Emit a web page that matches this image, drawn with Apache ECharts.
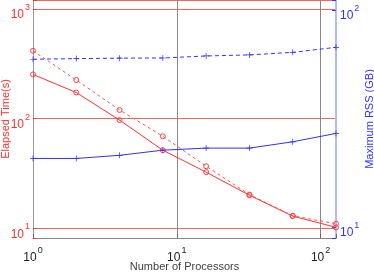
<!DOCTYPE html>
<html><head><meta charset="utf-8">
<script src="https://cdn.jsdelivr.net/npm/echarts@6/dist/echarts.min.js"></script>
<style>html,body{margin:0;padding:0;background:#fff}#c{width:374px;height:272px}</style>
</head><body><div id="c"></div>
<script>
const processors = [1, 2, 4, 8, 16, 32, 64, 128];
const timeSolid = [253, 173, 97, 51.5, 32.5, 20, 12.9, 10.2];
const timeDashed = [416, 225, 120, 69, 36.8, 20.3, 13, 11];
const rssSolid = [20.7, 20.7, 21.4, 22.6, 23.1, 23.1, 24.7, 27];
const rssDashed = [59.3, 59.7, 60, 60.1, 61.4, 62.1, 63.8, 67.3];

const FONT = 'Liberation Sans, Arial, Helvetica, sans-serif';
const RED = '#ff3030', BLUE = '#3030ff';
function pow10Label(v) {
  const l = Math.log10(v), e = Math.round(l);
  if (Math.abs(l - e) > 0.01) return '';
  return '{b|10}{s|' + e + '}';
}
function rich(color) {
  return {
    b: {fontSize: 12, color: color, fontFamily: FONT, lineHeight: 12, padding: [6, 0, 0, 0]},
    s: {fontSize: 9, color: color, fontFamily: FONT, lineHeight: 9, padding: [0, 0, 9, 1]}
  };
}
const plus = 'path://M4.4,0h1.2v4.4h4.4v1.2h-4.4v4.4h-1.2v-4.4h-4.4v-1.2h4.4z';
const circ = {color: 'rgba(255,255,255,0)', borderColor: '#ff4040', borderWidth: 1};
const chart = echarts.init(document.getElementById('c'), null, {renderer: 'canvas'});
chart.setOption({
  animation: false,
  grid: {left: 33, right: 38, top: 0, bottom: 34, containLabel: false, outerBoundsMode: 'none'},
  xAxis: {
    type: 'log', min: 1, max: 128,
    name: 'Number of Processors', nameLocation: 'middle', nameGap: 23, nameMoveOverlap: false,
    nameTextStyle: {fontSize: 11, color: '#404040', fontFamily: FONT},
    axisLine: {show: true, lineStyle: {color: '#888', width: 1}},
    axisTick: {show: true, inside: true, length: 4, lineStyle: {color: '#666'}},
    axisLabel: {formatter: pow10Label, rich: rich('#222'), margin: 11},
    splitLine: {show: true, lineStyle: {color: '#888', width: 1}},
    minorTick: {show: false}
  },
  yAxis: [{
    type: 'log', min: 8.15, max: 1208, position: 'left',
    name: 'Elapsed Time(s)', nameLocation: 'middle', nameGap: 22, nameRotate: 90, nameMoveOverlap: false,
    nameTextStyle: {fontSize: 11, color: RED, fontFamily: FONT},
    axisLine: {show: true, lineStyle: {color: '#999', width: 1}},
    axisTick: {show: true, inside: true, length: 4, lineStyle: {color: RED}},
    axisLabel: {formatter: pow10Label, rich: rich(RED), margin: 3, padding: [6, 0, 0, 0]},
    splitLine: {show: true, lineStyle: {color: '#ff6060', width: 1}}
  }, {
    type: 'log', min: 8.9, max: 111.2, position: 'right',
    name: 'Maximum RSS (GB)', nameLocation: 'middle', nameGap: 28, nameRotate: 90, nameMoveOverlap: false,
    nameTextStyle: {fontSize: 11, color: BLUE, fontFamily: FONT},
    axisLine: {show: true, lineStyle: {color: '#b4baff', width: 2}},
    axisTick: {show: true, inside: true, length: 4, lineStyle: {color: BLUE}},
    axisLabel: {formatter: pow10Label, rich: rich(BLUE), margin: 4, padding: [6, 0, 0, 0]},
    splitLine: {show: false}
  }],
  series: [{
    type: 'line', yAxisIndex: 0, clip: false,
    data: processors.map((p, i) => [p, timeSolid[i]]),
    symbol: 'circle', symbolSize: 5,
    lineStyle: {color: RED, width: 1}, itemStyle: circ
  }, {
    type: 'line', yAxisIndex: 0, clip: false,
    data: processors.map((p, i) => [p, timeDashed[i]]),
    symbol: 'circle', symbolSize: 5,
    lineStyle: {color: '#ff5050', width: 1, type: [3, 3]}, itemStyle: circ
  }, {
    type: 'line', yAxisIndex: 1, clip: false,
    data: processors.map((p, i) => [p, rssSolid[i]]),
    symbol: plus, symbolSize: 6,
    lineStyle: {color: BLUE, width: 1}, itemStyle: {color: BLUE}
  }, {
    type: 'line', yAxisIndex: 1, clip: false,
    data: processors.map((p, i) => [p, rssDashed[i]]),
    symbol: plus, symbolSize: 6,
    lineStyle: {color: BLUE, width: 1, type: [4, 3]}, itemStyle: {color: BLUE}
  }]
});
</script></body></html>
